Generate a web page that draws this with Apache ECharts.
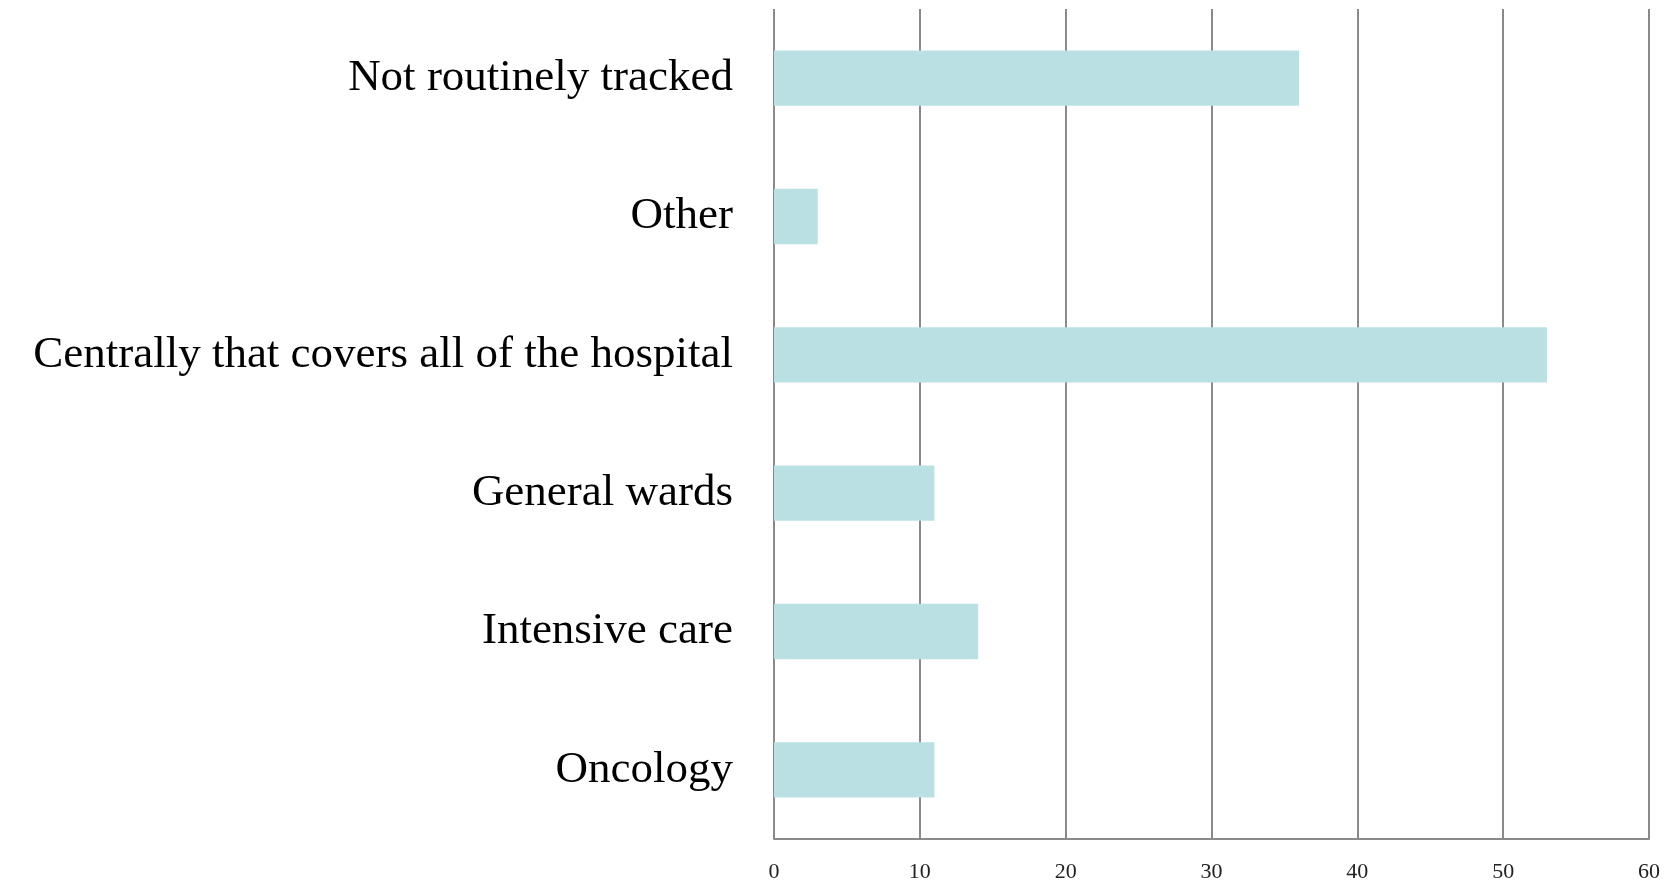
<!DOCTYPE html>
<html>
<head>
<meta charset="utf-8">
<script src="https://cdn.jsdelivr.net/npm/echarts@6/dist/echarts.min.js"></script>
<style>
  html, body { margin: 0; padding: 0; background: #fff; }
  #chart { width: 1671px; height: 885px; }
</style>
</head>
<body>
<div id="chart"></div>
<script>
// categories listed bottom to top
const categories = ['Oncology', 'Intensive care', 'General wards', 'Centrally that covers all of the hospital', 'Other', 'Not routinely tracked']
const values = [11, 14, 11, 53, 3, 36]
const xTicks = [0, 10, 20, 30, 40, 50, 60]

const chart = echarts.init(document.getElementById('chart'), null, { renderer: 'canvas' })

chart.setOption({
    animation: false,
    grid: {
        left: 774,
        right: 22,
        top: 9,
        bottom: 46,
        containLabel: false
    },
    xAxis: {
        type: 'value',
        min: xTicks[0],
        max: xTicks[xTicks.length - 1],
        interval: 10,
        axisLine: { show: true, lineStyle: { color: '#8a8a8a', width: 2 } },
        axisTick: { show: false },
        splitLine: { show: true, lineStyle: { color: '#8a8a8a', width: 2 } },
        axisLabel: {
            color: '#222',
            fontFamily: 'Liberation Serif',
            fontSize: 22,
            margin: 22
        }
    },
    yAxis: {
        type: 'category',
        data: categories,
        axisLine: { show: false },
        axisTick: { show: false },
        axisLabel: {
            color: '#000',
            fontFamily: 'Liberation Serif',
            fontSize: 45,
            margin: 41
        }
    },
    series: [{
        type: 'bar',
        data: values,
        barWidth: '40%',
        itemStyle: { color: '#bbe0e3' }
    }]
})
</script>
</body>
</html>
